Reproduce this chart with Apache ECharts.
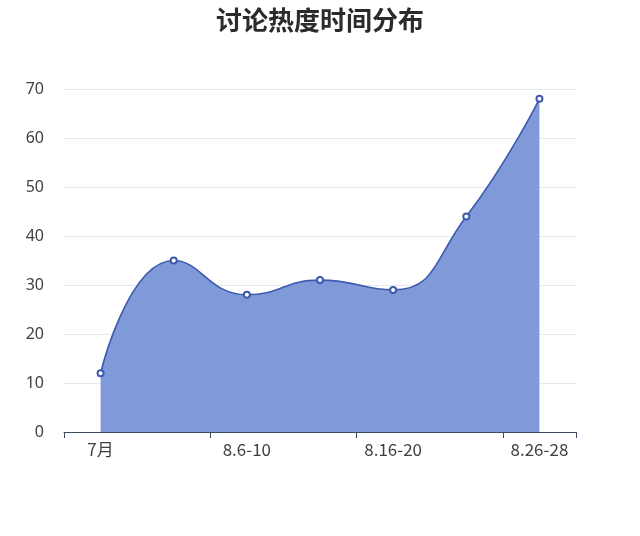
<!DOCTYPE html>
<html>
<head>
<meta charset="utf-8">
<script src="https://cdn.jsdelivr.net/npm/echarts@6/dist/echarts.min.js"></script>
<style>
  html, body { margin: 0; padding: 0; background: #fff; }
  #main { width: 640px; height: 536px; }
</style>
</head>
<body>
<div id="main"></div>
<script>
    // 数据
    var categories = ['7月', '8.1-5', '8.6-10', '8.11-15', '8.16-20', '8.21-25', '8.26-28'];
    var heatValues = [12, 35, 28, 31, 29, 44, 68];
    var yTicks = [0, 10, 20, 30, 40, 50, 60, 70];

    var myChart = echarts.init(document.getElementById('main'));

    var option = {
        backgroundColor: '#fff',
        title: {
            text: '讨论热度时间分布',
            left: 'center',
            top: 2,
            textStyle: {
                fontFamily: 'Noto Sans CJK SC',
                fontSize: 26,
                fontWeight: 'bold',
                color: '#2b2b2b'
            }
        },
        grid: {
            left: 64,
            right: 64,
            top: 89,
            bottom: 104
        },
        xAxis: {
            type: 'category',
            boundaryGap: true,
            data: categories,
            axisLine: { lineStyle: { color: '#3f4a5e', width: 1 } },
            axisTick: { show: true, interval: 1, length: 6, lineStyle: { color: '#3f4a5e', width: 1 } },
            axisLabel: {
                interval: 1,
                color: '#404040',
                fontSize: 17,
                margin: 9,
                fontFamily: 'Noto Sans CJK SC'
            }
        },
        yAxis: {
            type: 'value',
            min: yTicks[0],
            max: yTicks[yTicks.length - 1],
            interval: 10,
            axisLine: { show: false },
            axisTick: { show: false },
            axisLabel: {
                color: '#404040',
                fontSize: 16,
                margin: 20,
                fontFamily: 'Noto Sans'
            },
            splitLine: { lineStyle: { color: '#e6eaf0' } }
        },
        series: [{
            name: '讨论热度',
            type: 'line',
            smooth: true,
            data: heatValues,
            symbol: 'emptyCircle',
            symbolSize: 6,
            lineStyle: { color: '#3c5aae', width: 1.6 },
            itemStyle: { color: '#3c5aae', borderWidth: 1.5 },
            areaStyle: { color: '#7f99d9', opacity: 1 }
        }]
    };

    myChart.setOption(option);
</script>
</body>
</html>
